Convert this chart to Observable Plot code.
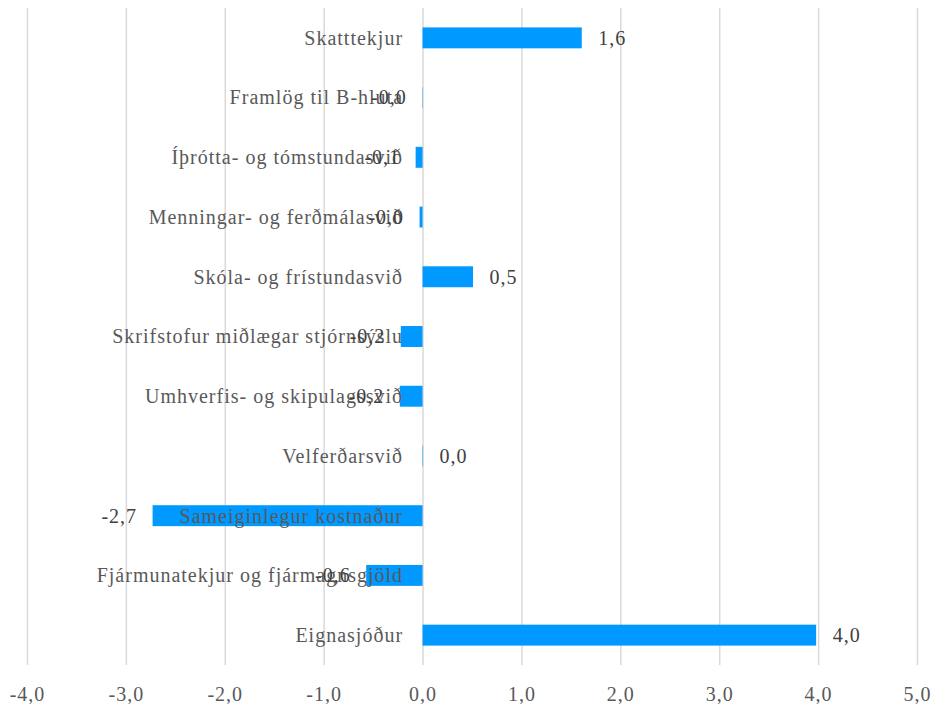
<!DOCTYPE html>
<html>
<head>
<meta charset="utf-8">
<script src="https://cdn.jsdelivr.net/npm/d3@7"></script>
<script src="https://cdn.jsdelivr.net/npm/@observablehq/plot@0.6"></script>
<style>
  html, body { margin: 0; padding: 0; background: #fff; }
  #chart svg { display: block; }
  #chart svg text { font-family: "Liberation Serif", "DejaVu Serif", serif; }
</style>
</head>
<body>
<div id="chart"></div>
<script>
const categories = [
  "Skatttekjur",
  "Framlög til B-hluta",
  "Íþrótta- og tómstundasvið",
  "Menningar- og ferðmálasvið",
  "Skóla- og frístundasvið",
  "Skrifstofur miðlægar stjórnsýslu",
  "Umhverfis- og skipulagssvið",
  "Velferðarsvið",
  "Sameiginlegur kostnaður",
  "Fjármunatekjur og fjármagnsgjöld",
  "Eignasjóður"
];
const values = [1.61, -0.004, -0.07, -0.03, 0.51, -0.22, -0.23, 0.005, -2.73, -0.57, 3.98];
const xTicks = [-4, -3, -2, -1, 0, 1, 2, 3, 4, 5];

const fmt = v => v.toFixed(1).replace(".", ",");
const data = categories.map((c, i) => ({category: c, value: values[i], label: fmt(values[i])}));

const font = "'Liberation Serif', 'DejaVu Serif', serif";

const chart = Plot.plot({
  width: 931,
  height: 704,
  marginLeft: 27,
  marginRight: 14,
  marginTop: 8,
  marginBottom: 39,
  style: {fontFamily: font, fontSize: "20px", color: "#595959", background: "#fff"},
  x: {domain: [-4, 5], label: null},
  y: {domain: categories, padding: 0, round: false, axis: null},
  marks: [
    Plot.ruleX(xTicks, {stroke: "#d9d9d9", strokeWidth: 1.5}),
    Plot.barX(data, {x: "value", y: "category", fill: "#0099ff", insetTop: 19.4, insetBottom: 19.4}),
    Plot.text(data, {x: 0, y: "category", text: "category", textAnchor: "end", dx: -20,
      fill: "#595959", fontSize: 20, fontFamily: font}),
    Plot.text(data.filter(d => d.value >= 0), {x: "value", y: "category", text: "label",
      textAnchor: "start", dx: 16, fill: "#404040", fontSize: 20, fontFamily: font}),
    Plot.text(data.filter(d => d.value < 0), {x: "value", y: "category", text: "label",
      textAnchor: "end", dx: -16, fill: "#404040", fontSize: 20, fontFamily: font}),
    Plot.axisX(xTicks, {tickSize: 0, tickPadding: 21, tickFormat: fmt, fontSize: 20, fill: "#595959", label: null, fontFamily: font})
  ]
});
chart.querySelectorAll("text").forEach(t => { t.style.letterSpacing = "1px"; t.style.fontFamily = font; });
document.getElementById("chart").appendChild(chart);
</script>
</body>
</html>
